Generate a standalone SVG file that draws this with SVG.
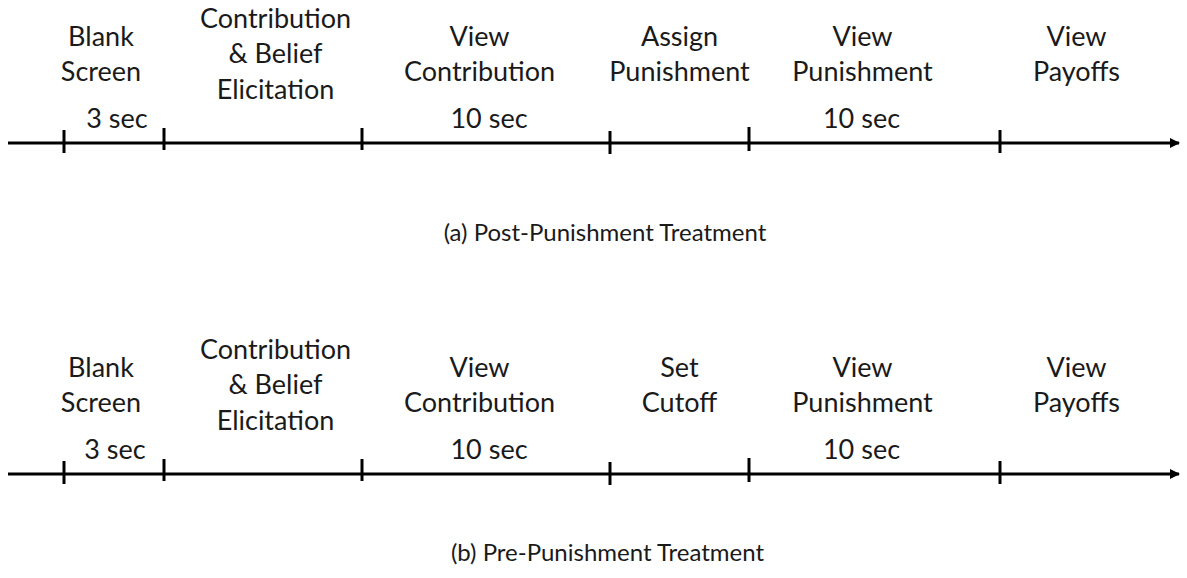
<svg xmlns="http://www.w3.org/2000/svg" width="1187" height="578" viewBox="0 0 1187 578">
<style>
text{font-family:Lato,"Open Sans",sans-serif;fill:#1a1a1a;text-anchor:middle}
.l{font-size:27px}
.c{font-size:24px}
.ax{stroke:#000;stroke-width:3;fill:none}
.tk{stroke:#000;stroke-width:3}
</style>
<defs>
<marker id="ah" markerUnits="userSpaceOnUse" markerWidth="12" markerHeight="12" refX="9" refY="5" orient="auto"><path d="M0,0 L10,5 L0,10 Z" fill="#000"/></marker>
</defs>
<g id="connectors">
<line class="ax" x1="8" y1="143" x2="1179" y2="143" marker-end="url(#ah)"/>
<line class="tk" x1="64" y1="130" x2="64" y2="153"/>
<line class="tk" x1="164" y1="128" x2="164" y2="150"/>
<line class="tk" x1="362" y1="128" x2="362" y2="150"/>
<line class="tk" x1="610" y1="131" x2="610" y2="154"/>
<line class="tk" x1="749" y1="127" x2="749" y2="151"/>
<line class="tk" x1="1000" y1="130" x2="1000" y2="153"/>
<line class="ax" x1="8" y1="474" x2="1179" y2="474" marker-end="url(#ah)"/>
<line class="tk" x1="64" y1="461" x2="64" y2="484"/>
<line class="tk" x1="164" y1="459" x2="164" y2="481"/>
<line class="tk" x1="362" y1="459" x2="362" y2="481"/>
<line class="tk" x1="610" y1="462" x2="610" y2="485"/>
<line class="tk" x1="749" y1="458" x2="749" y2="482"/>
<line class="tk" x1="1000" y1="461" x2="1000" y2="484"/>
</g>
<g id="a-blank"><text class="l" x="101" y="46">Blank</text><text class="l" x="101" y="81">Screen</text><text class="l" x="117" y="128">3 sec</text></g>
<g id="a-contrib"><text class="l" x="275.5" y="28">Contribution</text><text class="l" x="275.5" y="63">&amp; Belief</text><text class="l" x="275.5" y="99">Elicitation</text></g>
<g id="a-view-contrib"><text class="l" x="479.5" y="46">View</text><text class="l" x="479.5" y="81">Contribution</text><text class="l" x="489" y="128">10 sec</text></g>
<g id="a-assign"><text class="l" x="679.5" y="46">Assign</text><text class="l" x="679.5" y="81">Punishment</text></g>
<g id="a-view-pun"><text class="l" x="862.5" y="46">View</text><text class="l" x="862.5" y="81">Punishment</text><text class="l" x="861.5" y="128">10 sec</text></g>
<g id="a-view-pay"><text class="l" x="1076.5" y="46">View</text><text class="l" x="1076.5" y="81">Payoffs</text></g>
<g id="a-caption"><text class="c" x="605" y="241">(a) Post-Punishment Treatment</text></g>
<g id="b-blank"><text class="l" x="101" y="377">Blank</text><text class="l" x="101" y="412">Screen</text><text class="l" x="115" y="459">3 sec</text></g>
<g id="b-contrib"><text class="l" x="275.5" y="359">Contribution</text><text class="l" x="275.5" y="394">&amp; Belief</text><text class="l" x="275.5" y="430">Elicitation</text></g>
<g id="b-view-contrib"><text class="l" x="479.5" y="377">View</text><text class="l" x="479.5" y="412">Contribution</text><text class="l" x="489" y="459">10 sec</text></g>
<g id="b-setcut"><text class="l" x="679.5" y="377">Set</text><text class="l" x="679.5" y="412">Cutoff</text></g>
<g id="b-view-pun"><text class="l" x="862.5" y="377">View</text><text class="l" x="862.5" y="412">Punishment</text><text class="l" x="861.5" y="459">10 sec</text></g>
<g id="b-view-pay"><text class="l" x="1076.5" y="377">View</text><text class="l" x="1076.5" y="412">Payoffs</text></g>
<g id="b-caption"><text class="c" x="607.5" y="561">(b) Pre-Punishment Treatment</text></g>
</svg>
